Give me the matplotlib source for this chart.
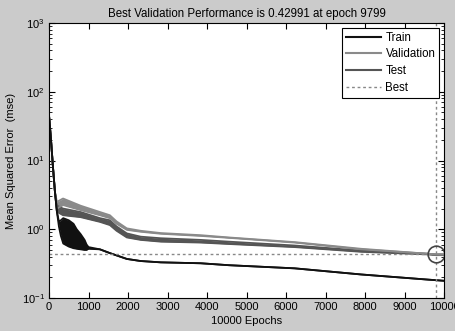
import matplotlib
matplotlib.use("Agg")
import matplotlib.pyplot as plt
from matplotlib.ticker import LogLocator, MultipleLocator

plt.rcParams['font.family'] = ['Liberation Sans', 'DejaVu Sans']
plt.rcParams['mathtext.fontset'] = 'custom'
plt.rcParams['mathtext.rm'] = 'Liberation Sans'
plt.rcParams['mathtext.it'] = 'Liberation Sans'

# values (upper / lower edge of each trace)
train_epochs = [0, 50, 100, 150, 200, 250, 300, 360, 500, 620, 700, 800, 900, 950, 1000,
                1290, 1540, 1970, 2320, 2830, 3840, 4550, 6220, 7900, 9600, 10000]
train_hi = [45, 20, 8, 3.5, 1.8, 1.3, 1.35, 1.45, 1.35, 1.2, 1.0, 0.85, 0.7, 0.6, 0.55,
            0.51, 0.45, 0.37, 0.345, 0.33, 0.32, 0.30, 0.27, 0.22, 0.185, 0.178]
train_lo = [45, 20, 8, 3.5, 1.8, 1.1, 0.8, 0.62, 0.56, 0.53, 0.52, 0.51, 0.5, 0.5, 0.52,
            0.51, 0.45, 0.37, 0.345, 0.33, 0.32, 0.30, 0.27, 0.22, 0.185, 0.178]

val_epochs = [0, 50, 100, 150, 200, 355, 800, 1290, 1540, 1710, 1970, 2320, 2830, 3840,
              4550, 6220, 7900, 9600, 9799, 10000]
val_hi = [45, 20, 8, 3.5, 2.5, 2.8, 2.2, 1.78, 1.6, 1.3, 1.03, 0.95, 0.88, 0.82,
          0.76, 0.65, 0.52, 0.44, 0.43, 0.43]
val_lo = [45, 20, 8, 3.5, 2.0, 2.25, 1.9, 1.6, 1.45, 1.2, 0.98, 0.92, 0.86, 0.80,
          0.75, 0.64, 0.51, 0.44, 0.43, 0.43]

test_epochs = [0, 50, 100, 150, 200, 355, 800, 1290, 1540, 1710, 1970, 2320, 2830, 3840,
               4550, 6220, 7900, 9600, 9799, 10000]
test_hi = [45, 20, 8, 3.5, 2.2, 2.0, 1.78, 1.45, 1.35, 1.1, 0.87, 0.78, 0.74, 0.70,
           0.66, 0.58, 0.49, 0.44, 0.43, 0.43]
test_lo = [45, 20, 8, 3.5, 1.8, 1.6, 1.5, 1.28, 1.15, 0.95, 0.76, 0.70, 0.66, 0.64,
           0.61, 0.55, 0.47, 0.43, 0.42, 0.42]

best_epoch = 9799
best_perf = 0.42991

fig = plt.figure(figsize=(4.56, 3.31), dpi=100, facecolor='#cbcbcb')
ax = fig.add_axes([0.1075, 0.0997, 0.8662, 0.8308])
ax.set_facecolor('white')

series = [
    ('Train', train_epochs, train_hi, train_lo, '#111111'),
    ('Validation', val_epochs, val_hi, val_lo, '#8a8a8a'),
    ('Test', test_epochs, test_hi, test_lo, '#555555'),
]
# draw test below validation like the original
for name, ep, hi, lo, col in [series[2], series[1], series[0]]:
    ax.fill_between(ep, lo, hi, color=col, linewidth=0)
    ax.plot(ep, hi, color=col, lw=1.3)
    ax.plot(ep, lo, color=col, lw=1.3)

handles = []
for name, ep, hi, lo, col in series:
    handles.append(plt.Line2D([], [], color=col, lw=1.5, label=name))
ax.axhline(best_perf, color='#888888', ls=(0, (2, 2)), lw=1)
ax.axvline(best_epoch, color='#888888', ls=(0, (2, 2)), lw=1)
handles.append(plt.Line2D([], [], color='#888888', ls=(0, (2, 2)), lw=1, label='Best'))
ax.plot([best_epoch], [best_perf], 'o', mfc='none', mec='#444444', ms=12, mew=1.2)

ax.set_yscale('log')
ax.set_xlim(0, 10000)
ax.set_ylim(0.1, 1000)
ax.xaxis.set_major_locator(MultipleLocator(1000))
ax.yaxis.set_major_locator(LogLocator(base=10, numticks=10))
ax.tick_params(which='both', direction='in', top=True, right=True, labelsize=8, pad=3)
ax.tick_params(which='major', length=4)
ax.tick_params(which='minor', length=2)
for s in ax.spines.values():
    s.set_linewidth(0.8)

ax.set_title('Best Validation Performance is 0.42991 at epoch 9799', fontsize=8.3, pad=4)
ax.set_xlabel('10000 Epochs', fontsize=8, labelpad=3)
ax.set_ylabel('Mean Squared Error  (mse)', fontsize=8, labelpad=4)

leg = ax.legend(handles=handles, loc='upper right', fontsize=8.3, fancybox=False,
                edgecolor='black', framealpha=1, borderaxespad=0.4, handlelength=3.0,
                labelspacing=0.42, borderpad=0.35, handletextpad=0.4)
leg.get_frame().set_linewidth(0.8)

fig.savefig('out.png', dpi=100, facecolor=fig.get_facecolor())
